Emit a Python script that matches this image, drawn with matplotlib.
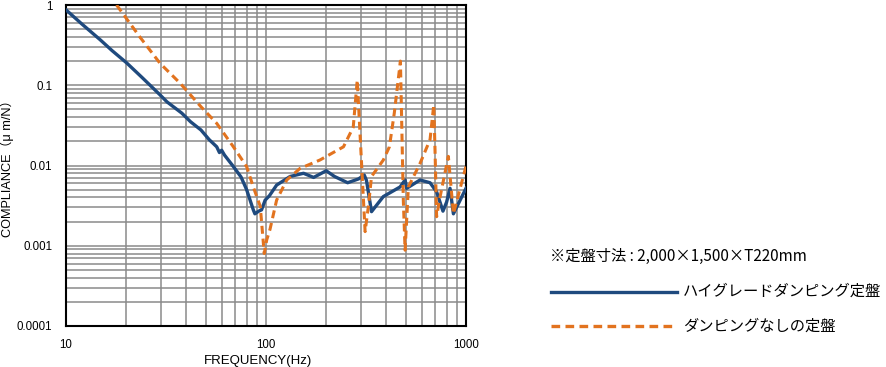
import numpy as np
import matplotlib.pyplot as plt
from matplotlib.lines import Line2D
from matplotlib.ticker import LogLocator, NullFormatter, FixedLocator

# ハイグレードダンピング定盤
freq_hg = [10, 12, 14.8, 17, 20.1, 24, 29.5, 32, 37.9, 42, 47.3, 52, 56.7, 58.5, 60, 62, 68.7,
           75, 80, 86.4, 88, 92, 95, 99, 104, 113,
           132, 154, 173, 200, 220, 256, 290, 310, 318, 337, 386, 468, 496, 505, 589, 661,
           713, 767, 800, 832, 865, 1000]
comp_hg = [0.87, 0.58, 0.37, 0.27, 0.19, 0.125, 0.076, 0.062, 0.045, 0.035, 0.0277, 0.021, 0.0171,
           0.0145, 0.0155, 0.0135, 0.0097, 0.0072, 0.005, 0.0028,
           0.0025, 0.0027, 0.0028, 0.0037, 0.0042, 0.0057, 0.0073, 0.008, 0.0071, 0.0086, 0.0073,
           0.0061, 0.0068, 0.0076, 0.0065, 0.00266, 0.0041, 0.0054, 0.0066, 0.0052, 0.0066,
           0.0061, 0.0047, 0.0027, 0.0035, 0.0052, 0.0025, 0.0052]

# ダンピングなしの定盤
freq_nd = [17.9, 23.4, 29.5, 37.2, 47.3, 56.7, 68.7, 80, 86.4, 93.6, 98, 100.8, 104.7, 113, 127,
           148, 186, 244, 273, 286, 301, 313, 325, 337, 386, 414, 438, 470, 486, 496, 515, 589,
           661, 690, 700, 713, 741, 816, 865, 1000]
comp_nd = [1.0, 0.40, 0.188, 0.106, 0.054, 0.0335, 0.0171, 0.0097, 0.0054, 0.0031, 0.0008,
           0.00118, 0.0016, 0.0037, 0.0066, 0.0092, 0.0117, 0.0171, 0.030, 0.116, 0.0097, 0.0015,
           0.0031, 0.0073, 0.0117, 0.0171, 0.045, 0.2, 0.0037, 0.00088, 0.0054, 0.0106, 0.021,
           0.057, 0.0156, 0.0023, 0.004, 0.013, 0.0025, 0.0098]

x_ticks = [10, 100, 1000]
x_labels = ['10', '100', '1000']
y_ticks = [0.0001, 0.001, 0.01, 0.1, 1]
y_labels = ['0.0001', '0.001', '0.01', '0.1', '1']

blue = '#1f4a7e'
orange = '#e2731f'
jp = ['Noto Sans CJK JP', 'DejaVu Sans']
lat = ['Liberation Sans', 'Noto Sans CJK JP']

fig = plt.figure(figsize=(8.86, 3.67), dpi=100)
ax = fig.add_axes([66 / 886, 41 / 367, 400 / 886, 321 / 367])

ax.plot(freq_hg, comp_hg, color=blue, lw=2.4, solid_joinstyle='round', zorder=3)
ax.plot(freq_nd, comp_nd, color=orange, lw=2.2, linestyle=(0, (2.6, 1.6)), zorder=3)

ax.set_xscale('log')
ax.set_yscale('log')
ax.set_xlim(10, 1000)
ax.set_ylim(0.0001, 1)

ax.xaxis.set_major_locator(FixedLocator(x_ticks))
ax.set_xticklabels(x_labels, family=lat, fontsize=8.3)
ax.yaxis.set_major_locator(FixedLocator(y_ticks))
ax.set_yticklabels(y_labels, family=lat, fontsize=8.3)
ax.xaxis.set_minor_locator(LogLocator(base=10, subs=np.arange(2, 10)))
ax.yaxis.set_minor_locator(LogLocator(base=10, subs=np.arange(2, 10), numticks=20))
ax.xaxis.set_minor_formatter(NullFormatter())
ax.yaxis.set_minor_formatter(NullFormatter())
ax.tick_params(which='both', length=0)
ax.tick_params(axis='y', pad=10)
ax.tick_params(axis='x', pad=9)

ax.grid(True, which='both', color='#8a8a8a', lw=1.1, zorder=1)
ax.set_axisbelow(True)
for s in ax.spines.values():
    s.set_linewidth(1.5)
    s.set_color('black')

ax.set_xlabel('FREQUENCY(Hz)', family=lat, fontsize=9.5, labelpad=8)
ax.xaxis.set_label_coords(0.48, -0.09)
ax.set_ylabel('COMPLIANCE（μ m/N）', family=lat, fontsize=9.2, labelpad=2)

# 凡例
fig.text(550 / 886, 1 - 256 / 367, '※定盤寸法 : 2,000×1,500×T220mm', family=jp,
         fontsize=11, va='center', ha='left')
fig.add_artist(Line2D([551 / 886, 677 / 886], [1 - 292 / 367] * 2, color=blue, lw=2.4))
fig.text(683 / 886, 1 - 291 / 367, 'ハイグレードダンピング定盤', family=jp,
         fontsize=11, va='center', ha='left')
fig.add_artist(Line2D([551 / 886, 677 / 886], [1 - 326 / 367] * 2, color=orange, lw=2.4,
                      linestyle=(0, (2.6, 1.6))))
fig.text(683 / 886, 1 - 326 / 367, 'ダンピングなしの定盤', family=jp,
         fontsize=11, va='center', ha='left')

fig.savefig('out.png', dpi=100)
